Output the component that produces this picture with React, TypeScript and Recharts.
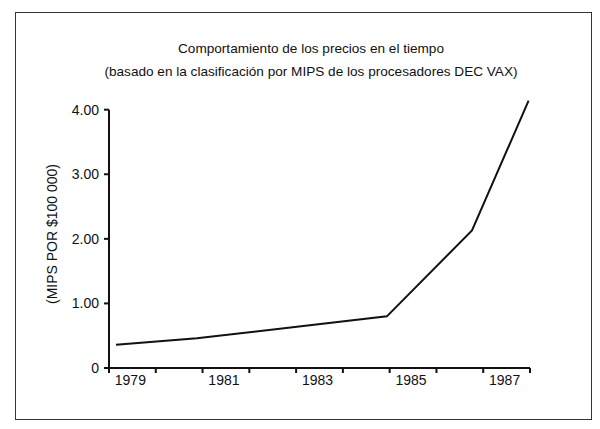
import React from 'react';
import { LineChart, Line, XAxis, YAxis, ReferenceLine } from 'recharts';

// Data
const pointYears: number[] = [1979.15, 1980.88, 1984.94, 1986.76, 1987.97];
const mipsPerCost: number[] = [0.36, 0.46, 0.8, 2.13, 4.14];

const yearMarks: number[] = [1979, 1980, 1981, 1982, 1983, 1984, 1985, 1986, 1987, 1988];
const yearLabels: string[] = ['1979', '1981', '1983', '1985', '1987'];
const yTicks: number[] = [0, 1, 2, 3, 4];

const titleLine1 = 'Comportamiento de los precios en el tiempo';
const titleLine2 = '(basado en la clasificación por MIPS de los procesadores DEC VAX)';
const yAxisTitle = '(MIPS POR $100 000)';

const data = pointYears.map((year, i) => ({ year, value: mipsPerCost[i] }));

const labelPositions = yearLabels.map((l) => Number(l) + 0.5);
const xTicks = [...yearMarks, ...labelPositions].sort((a, b) => a - b);

const FONT = '"Liberation Sans", Arial, Helvetica, sans-serif';
const INK = '#111';

const XTick = (props: any) => {
  const { x, y, payload } = props;
  const v = payload.value as number;
  if (Number.isInteger(v)) {
    return <line x1={x} x2={x} y1={y} y2={y + 5} stroke={INK} strokeWidth={2} />;
  }
  return (
    <text x={x - 2} y={y + 17} textAnchor="middle" fontSize={14} fontFamily={FONT} fill={INK}>
      {String(Math.floor(v))}
    </text>
  );
};

export default function App() {
  return (
    <div style={{ position: 'absolute', left: 0, top: 0, width: 600, height: 429, background: '#fff', fontFamily: FONT }}>
      <div
        style={{
          position: 'absolute',
          left: 15,
          top: 12,
          width: 577,
          height: 408,
          boxSizing: 'border-box',
          border: '1.5px solid #333',
        }}
      />
      <div
        style={{
          position: 'absolute',
          left: 0,
          top: 37,
          width: 622,
          textAlign: 'center',
          fontSize: 13.6,
          lineHeight: '23px',
          color: INK,
        }}
      >
        <div>{titleLine1}</div>
        <div>{titleLine2}</div>
      </div>
      <div style={{ position: 'absolute', left: 0, top: 0 }}>
        <LineChart width={600} height={429} data={data} margin={{ top: 100, right: 70, bottom: 31, left: 49 }}>
          <XAxis
            dataKey="year"
            type="number"
            domain={[1979, 1988]}
            ticks={xTicks}
            interval={0}
            tickSize={0}
            tickMargin={0}
            tickLine={false}
            tick={XTick}
            axisLine={{ stroke: INK, strokeWidth: 2 }}
            height={30}
          />
          <YAxis
            type="number"
            domain={[0, 4.15]}
            ticks={yTicks}
            interval={0}
            width={60}
            tickSize={5}
            tickMargin={5}
            axisLine={false}
            tickLine={{ stroke: INK, strokeWidth: 2 }}
            tick={{ fontSize: 14, fontFamily: FONT, fill: INK }}
            tickFormatter={(v: number) => (v === 0 ? '0' : v.toFixed(2))}
            label={{
              value: yAxisTitle,
              angle: -90,
              position: 'insideLeft',
              offset: 0,
              dx: 3,
              style: { fontSize: 14, fontFamily: FONT, fill: INK, textAnchor: 'middle' },
            }}
          />
          <ReferenceLine
            segment={[
              { x: 1979, y: 0 },
              { x: 1979, y: 4 },
            ]}
            stroke={INK}
            strokeWidth={2}
          />
          <Line
            type="linear"
            dataKey="value"
            stroke={INK}
            strokeWidth={2}
            dot={false}
            activeDot={false}
            isAnimationActive={false}
          />
        </LineChart>
      </div>
    </div>
  );
}
